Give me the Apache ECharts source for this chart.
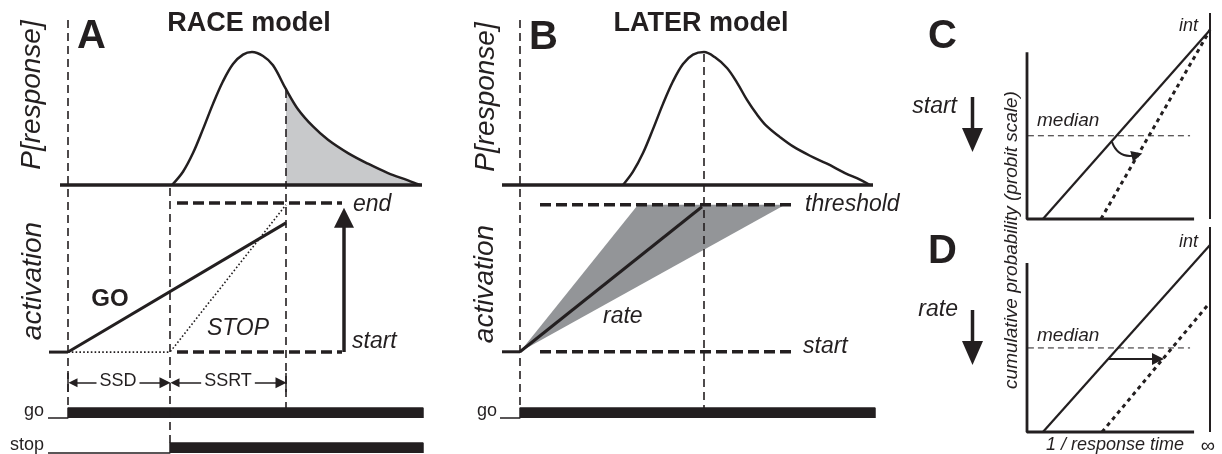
<!DOCTYPE html>
<html>
<head>
<meta charset="utf-8">
<script src="https://cdn.jsdelivr.net/npm/echarts@6/dist/echarts.min.js"></script>
<style>
  html, body { margin: 0; padding: 0; background: #fff; }
  #chart { width: 1222px; height: 454px; }
</style>
</head>
<body>
<div id="chart"></div>
<script>
// time axis: ms from go-signal onset
const timeRange = [-20, 355]

// A: RACE model
const raceRT = [[104, 0], [115, 0.1], [125, 0.24], [135, 0.42], [145, 0.61], [155, 0.78], [165, 0.91],
  [175, 0.98], [184, 1], [195, 0.97], [205, 0.9], [218, 0.72], [230, 0.57], [245, 0.44], [260, 0.34],
  [280, 0.24], [300, 0.16], [320, 0.09], [340, 0.035], [352, 0]]
const raceBase = [[-8, 0], [354, 0]]
const ssd = 102
const ssrtEnd = 218
const goProcess = [[0, 0], [218, 0.866]]
const stopProcess = [[0, 0], [102, 0], [218, 0.987]]
const raceLevels = [[109, 274]]
const raceGoSignal = [[-20, 0], [0, 0], [0, 1], [355, 1], [355, 0]]
const raceStopSignal = [[-20, 0], [102, 0], [102, 1], [355, 1], [355, 0]]

// B: LATER model
const laterRT = [[103, 0], [113, 0.1], [123, 0.24], [133, 0.42], [143, 0.61], [153, 0.78], [163, 0.91],
  [173, 0.98], [184, 1], [195, 0.96], [207, 0.88], [217, 0.77], [227, 0.64], [237, 0.53], [247, 0.44],
  [260, 0.36], [273, 0.29], [290, 0.22], [307, 0.16], [325, 0.09], [340, 0.04], [350, 0]]
const laterBase = [[-18, 0], [353, 0]]
const laterMedian = 184
const laterFan = [[0, 0], [118, 1], [265, 1]]
const laterMeanRate = [[0, 0], [182, 0.986]]
const laterLevels = [[20, 275]]
const laterGoSignal = [[-20, 0], [0, 0], [0, 1], [355, 1], [355, 0]]

// C / D: reciprobit plots (x: 1/RT, 1 = infinity; y: probit)
const cAxes = [[0, 0.81], [0, 0], [0.913, 0]]
const cControl = [[0.087, 0], [1, 0.917]]
const cStartShift = [[0.404, 0], [1, 0.917]]
const cMedian = 0.404
const cSwivel = [[0.464, 0.374], [0.601, 0.311]]
const dAxes = [[0, 0.824], [0, 0], [0.913, 0]]
const dControl = [[0.087, 0], [1, 0.912]]
const dRateShift = [[0.41, 0], [0.984, 0.615]]
const dMedian = 0.41
const dShift = [[0.443, 0.356], [0.716, 0.356]]

const INK = '#231f20'
const FONT = '"Liberation Sans", Arial, Helvetica, sans-serif'

const grids = [
  { left: 48, top: 52, width: 375, height: 133, x: timeRange, y: [0, 1] },       // 0 A dist
  { left: 48, top: 188, width: 375, height: 179, x: timeRange, y: [-0.1, 1.1] }, // 1 A activation
  { left: 48, top: 408, width: 375, height: 10, x: timeRange, y: [0, 1] },       // 2 A go
  { left: 48, top: 443, width: 375, height: 10, x: timeRange, y: [0, 1] },       // 3 A stop
  { left: 48, top: 0, width: 375, height: 454, x: timeRange, y: [0, 454], inv: true }, // 4 A overlay
  { left: 500, top: 52, width: 375, height: 133, x: timeRange, y: [0, 1] },      // 5 B dist
  { left: 500, top: 190, width: 375, height: 176.5, x: timeRange, y: [-0.1, 1.1] }, // 6 B activation
  { left: 500, top: 408, width: 375, height: 10, x: timeRange, y: [0, 1] },      // 7 B go
  { left: 500, top: 0, width: 375, height: 454, x: timeRange, y: [0, 454], inv: true }, // 8 B overlay
  { left: 1027, top: 13, width: 183, height: 206, x: [0, 1], y: [0, 1] },        // 9 C
  { left: 1027, top: 227, width: 183, height: 205, x: [0, 1], y: [0, 1] }        // 10 D
]

function line(g, data, width, type, extra) {
  return Object.assign({
    type: 'line', xAxisIndex: g, yAxisIndex: g, data: data,
    showSymbol: false, symbol: 'none', clip: false, silent: true,
    lineStyle: { color: INK, width: width, type: type || 'solid' }
  }, extra || {})
}
function arrow(g, coords, width, syms, size, curveness) {
  return {
    type: 'lines', coordinateSystem: 'cartesian2d', xAxisIndex: g, yAxisIndex: g,
    symbol: syms, symbolSize: size, silent: true,
    lineStyle: { color: INK, width: width, opacity: 1, curveness: curveness || 0 },
    data: [{ coords: coords }]
  }
}
function vline(g, t, from, to) {
  return line(g, [[t, from], [t, to]], 1.6, [8, 5])
}
function level(g, span, y) {
  return line(g, [[span[0], y], [span[1], y]], 3.5, [11, 5])
}
function txt(x, y, text, size, opts) {
  opts = opts || {}
  return {
    type: 'text', x: x, y: y, z: 100, rotation: opts.rot || 0, silent: true,
    style: {
      text: text, fill: INK,
      font: (opts.italic ? 'italic ' : '') + (opts.bold ? 'bold ' : '') + size + 'px ' + FONT,
      align: opts.align || 'left', verticalAlign: 'middle',
      textAlign: opts.align || 'left', textVerticalAlign: 'middle',
      backgroundColor: opts.bg, padding: opts.bg ? [0, 3] : 0
    }
  }
}
function downArrow(x, y1, y2) {
  return [
    { type: 'line', z: 100, shape: { x1: x, y1: y1, x2: x, y2: y2 - 20 }, style: { stroke: INK, lineWidth: 3.5 } },
    { type: 'polygon', z: 100, shape: { points: [[x - 10.5, y2 - 24], [x + 10.5, y2 - 24], [x, y2]] }, style: { fill: INK } }
  ]
}
const curve = { smooth: 0.35 }

const series = [
  // A distribution
  line(0, raceRT.filter(p => p[0] >= ssrtEnd), 0, 'solid', Object.assign({
    areaStyle: { color: '#c8c9cb', opacity: 1 }, z: 1
  }, curve)),
  line(0, raceRT, 2.5, 'solid', curve),
  line(0, raceBase, 3.5),
  // A activation
  line(1, [[-19, 0], [0, 0]], 3),
  line(1, stopProcess, 1.6, [1.6, 2.2]),
  line(1, goProcess, 3),
  level(1, raceLevels[0], 1),
  level(1, raceLevels[0], 0),
  arrow(1, [[276, 0], [276, 0.9]], 3.5, ['none', 'triangle'], [22, 20]),
  // A signals
  line(2, raceGoSignal, 1.5, 'solid', { areaStyle: { color: INK, opacity: 1 } }),
  line(3, raceStopSignal, 1.5, 'solid', { areaStyle: { color: INK, opacity: 1 } }),
  // A overlay
  vline(4, 0, 20, 408),
  vline(4, ssd, 188, 443),
  vline(4, ssrtEnd, 90, 408),
  line(4, [[0, 373], [0, 392]], 1.5),
  line(4, [[ssrtEnd, 373], [ssrtEnd, 392]], 1.5),
  arrow(4, [[5, 382.7], [ssd - 5, 382.7]], 1.5, ['triangle', 'triangle'], [9, 11]),
  arrow(4, [[ssd + 5, 382.7], [ssrtEnd - 5, 382.7]], 1.5, ['triangle', 'triangle'], [9, 11]),

  // B distribution
  line(5, laterRT, 2.5, 'solid', curve),
  line(5, laterBase, 3.5),
  // B activation
  line(6, [[-18, 0], [0, 0]], 3),
  {
    type: 'custom', xAxisIndex: 6, yAxisIndex: 6, silent: true, clip: false,
    data: [[0, 0]], encode: { x: 0, y: 1 },
    renderItem: (params, api) => ({
      type: 'polygon',
      shape: { points: laterFan.map(p => api.coord(p)) },
      style: { fill: '#939598' }
    })
  },
  line(6, laterMeanRate, 3),
  level(6, laterLevels[0], 1),
  level(6, laterLevels[0], 0),
  // B signal
  line(7, laterGoSignal, 1.5, 'solid', { areaStyle: { color: INK, opacity: 1 } }),
  // B overlay
  vline(8, 0, 20, 408),
  vline(8, laterMedian, 54, 408),

  // C
  line(9, cAxes, 2.8),
  line(9, [[1, 0], [1, 1]], 2),
  line(9, [[0.005, cMedian], [0.891, cMedian]], 1, [6, 4]),
  line(9, cControl, 2.2),
  line(9, cStartShift, 3, [4, 4]),
  arrow(9, cSwivel, 2, ['none', 'triangle'], [10, 11], -0.45),
  // D
  line(10, dAxes, 2.8),
  line(10, [[1, 0], [1, 1]], 2),
  line(10, [[0.005, dMedian], [0.891, dMedian]], 1, [6, 4]),
  line(10, dControl, 2.2),
  line(10, dRateShift, 3, [4, 4]),
  arrow(10, dShift, 2, ['none', 'triangle'], [10, 12])
]

const graphics = [
  txt(77, 36.5, 'A', 40, { bold: true }),
  txt(249, 24, 'RACE model', 27, { bold: true, align: 'center' }),
  txt(32, 95, 'P[response]', 28, { italic: true, align: 'center', rot: Math.PI / 2 }),
  txt(33, 281, 'activation', 28, { italic: true, align: 'center', rot: Math.PI / 2 }),
  txt(110, 299, 'GO', 24, { bold: true, align: 'center' }),
  txt(238, 329, 'STOP', 23, { italic: true, align: 'center' }),
  txt(353, 205, 'end', 23, { italic: true }),
  txt(352, 342, 'start', 23, { italic: true }),
  txt(118, 381, 'SSD', 18, { align: 'center', bg: '#fff' }),
  txt(228, 381, 'SSRT', 18, { align: 'center', bg: '#fff' }),
  txt(44, 411, 'go', 18, { align: 'right' }),
  txt(44, 445, 'stop', 18, { align: 'right' }),

  txt(529, 37.5, 'B', 40, { bold: true }),
  txt(701, 24, 'LATER model', 27, { bold: true, align: 'center' }),
  txt(486, 97, 'P[response]', 28, { italic: true, align: 'center', rot: Math.PI / 2 }),
  txt(485, 284, 'activation', 28, { italic: true, align: 'center', rot: Math.PI / 2 }),
  txt(805, 205, 'threshold', 23, { italic: true }),
  txt(803, 347, 'start', 23, { italic: true }),
  txt(603, 317, 'rate', 23, { italic: true }),
  txt(497, 411, 'go', 18, { align: 'right' }),

  txt(928, 37, 'C', 40, { bold: true }),
  txt(928, 252, 'D', 40, { bold: true }),
  txt(957, 107, 'start', 23, { italic: true, align: 'right' }),
  txt(958, 310, 'rate', 23, { italic: true, align: 'right' }),
  txt(1037, 121, 'median', 19, { italic: true }),
  txt(1037, 336, 'median', 19, { italic: true }),
  txt(1179, 26, 'int', 18, { italic: true }),
  txt(1179, 242, 'int', 18, { italic: true }),
  txt(1115, 445, '1 / response time', 18, { italic: true, align: 'center' }),
  txt(1208, 446, '\u221e', 20, { align: 'center' }),
  txt(1012, 240, 'cumulative probability (probit scale)', 19, { italic: true, align: 'center', rot: Math.PI / 2 })
].concat(downArrow(972.5, 97, 152), downArrow(972.5, 310, 365))

const chart = echarts.init(document.getElementById('chart'))
chart.setOption({
  animation: false,
  backgroundColor: '#fff',
  grid: grids.map(g => ({ left: g.left, top: g.top, width: g.width, height: g.height, outerBoundsMode: 'none', containLabel: false })),
  xAxis: grids.map((g, i) => ({ type: 'value', gridIndex: i, min: g.x[0], max: g.x[1], show: false })),
  yAxis: grids.map((g, i) => ({ type: 'value', gridIndex: i, min: g.y[0], max: g.y[1], inverse: !!g.inv, show: false })),
  series: series,
  graphic: { elements: graphics }
})
window.addEventListener('resize', () => chart.resize())
</script>
</body>
</html>
